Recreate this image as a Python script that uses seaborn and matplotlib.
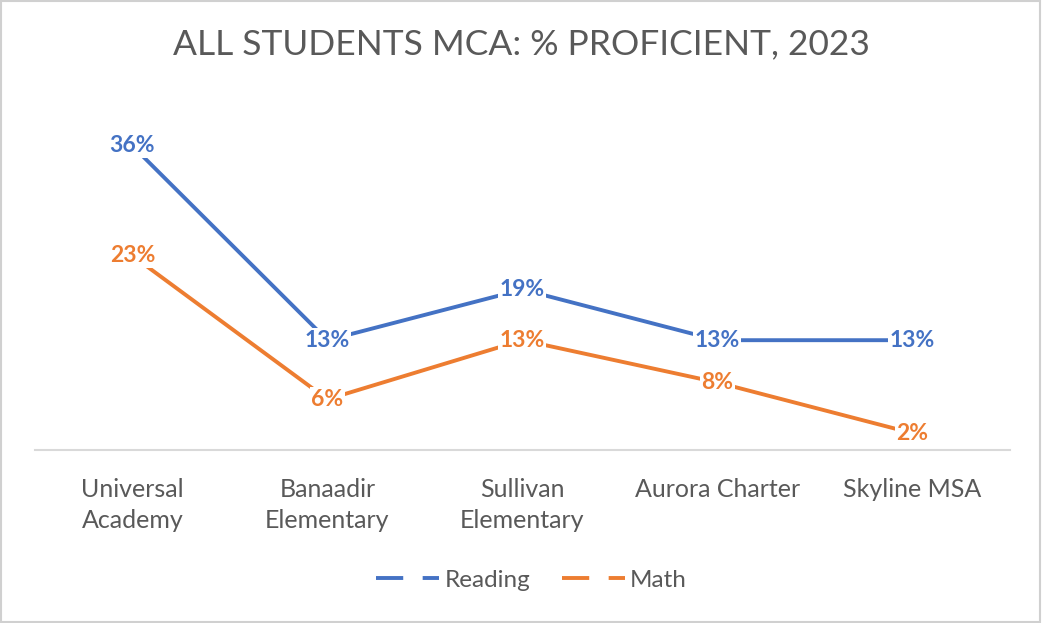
import pandas as pd
import matplotlib.pyplot as plt
import seaborn as sns
from matplotlib.lines import Line2D
from matplotlib.patches import Rectangle

escolas = ["Universal\nAcademy", "Banaadir\nElementary", "Sullivan\nElementary",
           "Aurora Charter", "Skyline MSA"]
reading = [36, 13, 19, 13, 13]
math = [23, 6, 13, 8, 2]

AZUL = "#4472C4"
LARANJA = "#ED7D31"
CINZA = "#595959"

df = pd.concat([
    pd.DataFrame({"escola": escolas, "valor": reading, "serie": "Reading"}),
    pd.DataFrame({"escola": escolas, "valor": math, "serie": "Math"}),
])

sns.set_style("white")
plt.rcParams["font.family"] = ["Lato", "DejaVu Sans"]

fig = plt.figure(figsize=(10.42, 6.23), dpi=100)
ax = fig.add_axes([0.0336, 0.2777, 0.9354, 0.5423])

sns.lineplot(data=df, x="escola", y="valor", hue="serie", sort=False,
             palette={"Reading": AZUL, "Math": LARANJA}, linewidth=2.8,
             legend=False, ax=ax)

# rótulos centrados nos pontos, com fundo branco
for serie, cor in [("Reading", AZUL), ("Math", LARANJA)]:
    sub = df[df["serie"] == serie]
    for i, v in enumerate(sub["valor"]):
        ax.text(i, v, f"{v}%", ha="center", va="center", color=cor,
                fontsize=16.5, fontweight="bold",
                bbox=dict(facecolor="white", edgecolor="none", pad=1.0))

ax.set_xlim(-0.5, len(escolas) - 0.5)
ax.set_ylim(0, 40)
ax.set_yticks([])
ax.set_xlabel("")
ax.set_ylabel("")
for lado in ["top", "right", "left"]:
    ax.spines[lado].set_visible(False)
ax.spines["bottom"].set_color("#D9D9D9")
ax.spines["bottom"].set_linewidth(1.5)
ax.tick_params(axis="x", length=0, pad=20, labelsize=18, labelcolor=CINZA)
for t in ax.get_xticklabels():
    t.set_linespacing(1.42)

fig.suptitle("ALL STUDENTS MCA: % PROFICIENT, 2023", y=0.955, fontsize=25.5,
             color=CINZA)

handles = [Line2D([], [], color=AZUL, lw=2.8, dashes=(7, 5)),
           Line2D([], [], color=LARANJA, lw=2.8, dashes=(7, 5))]
fig.legend(handles, ["Reading", "Math"], loc="center", bbox_to_anchor=(0.51, 0.069),
           ncol=2, frameon=False, fontsize=17.5, labelcolor=CINZA,
           handlelength=2.6, handletextpad=0.2, columnspacing=1.3)

fig.patches.append(Rectangle((0.001, 0.001), 0.997, 0.997, transform=fig.transFigure,
                             fill=False, edgecolor="#D0D0D0", linewidth=1.5))

fig.savefig("out.png", dpi=100)
